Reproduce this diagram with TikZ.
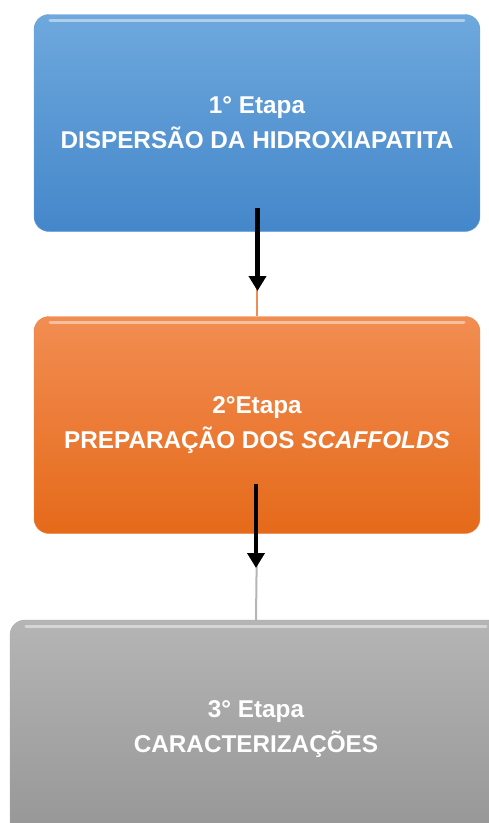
\documentclass[tikz,border=0pt]{standalone}
\usepackage{fontspec}
\setmainfont{Liberation Sans}
\usetikzlibrary{arrows.meta,positioning}

\definecolor{azulA}{HTML}{6EA8DD}
\definecolor{azulB}{HTML}{4487CA}
\definecolor{laranjaA}{HTML}{F28D52}
\definecolor{laranjaB}{HTML}{E56A1A}
\definecolor{cinzaA}{HTML}{B5B5B5}
\definecolor{cinzaB}{HTML}{969696}

\tikzset{
    etapa/.style={rounded corners=15pt, minimum width=446pt, minimum height=217pt,
        inner sep=0pt, align=center, text=white,
        font=\fontsize{24.3}{35}\selectfont\bfseries,
        path picture={\draw[white, opacity=0.45, line width=3pt, line cap=round]
            ([xshift=16pt,yshift=-6pt]path picture bounding box.north west) --
            ([xshift=-16pt,yshift=-6pt]path picture bounding box.north east);}},
    seta/.style={line width=4.5pt, -{Triangle[length=15pt,width=17pt]}}
}

\begin{document}
\begin{tikzpicture}[x=1pt, y=-1pt]
    \useasboundingbox (0,0) rectangle (488,823);
    \node[etapa, top color=azulA, bottom color=azulB, draw=azulB!80!white] at (257,123)(e1){1° Etapa\\DISPERSÃO DA HIDROXIAPATITA};
    \node[etapa, top color=laranjaA, bottom color=laranjaB, draw=laranjaB!80!white] at (257,425)(e2){2°Etapa\\PREPARAÇÃO DOS \textit{SCAFFOLDS}};
    \node[etapa, top color=cinzaA, bottom color=cinzaB, draw=cinzaB!80!white, minimum width=492pt, minimum height=218pt] at (256,729)(e3){3° Etapa\\CARACTERIZAÇÕES};

    \coordinate (s1a) at (257.5,208);
    \coordinate (s1b) at (257.5,291);
    \coordinate (s2a) at (256,484);
    \coordinate (s2b) at (256,568);

    \path[line width=2pt]
        (e1.south) edge[draw=laranjaA] (e2.north)
        (e2.south) edge[draw=cinzaA] (e3.north);
    \draw[seta] (s1a) -- (s1b);
    \draw[seta] (s2a) -- (s2b);
\end{tikzpicture}
\end{document}
